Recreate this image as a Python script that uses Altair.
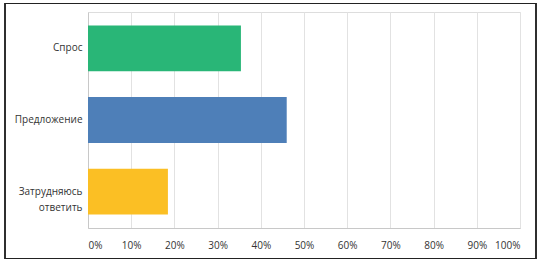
import altair as alt
import pandas as pd

categories = ["Спрос", "Предложение", "Затрудняюсь|ответить"]
values = [35.4, 46.0, 18.5]
colors = ["#29b677", "#4e7fb8", "#fbbf24"]

df = pd.DataFrame({"cat": categories, "val": values, "color": colors})

FONT = "Open Sans"

bars = alt.Chart(df).mark_bar().encode(
    y=alt.Y("cat:N", sort=categories, title=None,
            scale=alt.Scale(paddingInner=0.36, paddingOuter=0.19),
            axis=alt.Axis(labelExpr="split(datum.label, '|')", ticks=False,
                          labelPadding=6, domain=True, domainColor="#c8c8c8",
                          labelFont=FONT, labelFontSize=10, labelColor="#333333",
                          labelLineHeight=16)),
    x=alt.X("val:Q", title=None,
            scale=alt.Scale(domain=[0, 100], nice=False),
            axis=alt.Axis(values=list(range(0, 101, 10)),
                          labelExpr="datum.value + '%'", ticks=False,
                          labelPadding=12, grid=True, gridColor="#e2e2e2",
                          domainColor="#c8c8c8", labelFont=FONT, labelFontSize=10,
                          labelColor="#333333", labelFlush=True)),
    color=alt.Color("color:N", scale=None),
)

border = alt.Chart(df).mark_rect(fill=None, stroke="#222222", strokeWidth=1.2, clip=False).encode(
    x=alt.value(-83), x2=alt.value(448), y=alt.value(-8.5), y2=alt.value(246.5)
)

chart = alt.layer(bars, border).properties(
    width=432, height=216,
    autosize=alt.AutoSizeParams(type="none"),
    padding={"left": 88, "top": 12, "right": 21, "bottom": 37},
).configure_view(stroke=None).configure(background="white")

chart.save("out.html", embed_options={"renderer": "svg", "actions": False})
